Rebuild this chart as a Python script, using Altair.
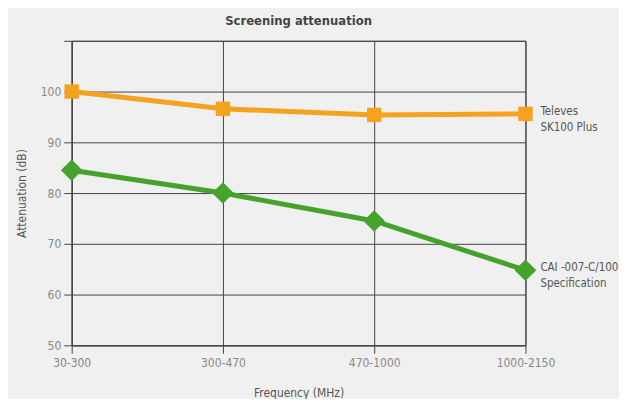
import altair as alt
import pandas as pd

categories = ["30-300", "300-470", "470-1000", "1000-2150"]
televes = [100, 96.6, 95.4, 95.6]
cai = [84.5, 80.0, 74.5, 64.8]
series_names = ["Televes\nSK100 Plus", "CAI -007-C/100\nSpecification"]
y_ticks = [50, 60, 70, 80, 90, 100, 110]

rows = []
for c, v in zip(categories, televes):
    rows.append({"freq": c, "att": v, "series": series_names[0]})
for c, v in zip(categories, cai):
    rows.append({"freq": c, "att": v, "series": series_names[1]})
df = pd.DataFrame(rows)
last = df[df["freq"] == categories[-1]]

FONT = "DejaVu Sans Condensed, sans-serif"
colors = ["#F5A21F", "#45A22C"]

x = alt.X("freq:N", sort=categories, scale=alt.Scale(type="point", padding=0),
          axis=alt.Axis(title="Frequency (MHz)", labelAngle=0, grid=True,
                        gridColor="#444", domainColor="#444", tickColor="#444",
                        tickSize=8, labelPadding=4, titlePadding=19))
y = alt.Y("att:Q", scale=alt.Scale(domain=[50, 110], nice=False, zero=False),
          axis=alt.Axis(title="Attenuation (dB)", values=y_ticks,
                        labelExpr="datum.value == 110 ? '' : datum.label",
                        gridColor="#444", domainColor="#444", tickColor="#444",
                        tickSize=8, labelPadding=3, titlePadding=12))
color = alt.Color("series:N", scale=alt.Scale(domain=series_names, range=colors), legend=None)

line = alt.Chart(df).mark_line(strokeWidth=5).encode(x=x, y=y, color=color)
sq = alt.Chart(df[df["series"] == series_names[0]]).mark_point(
    shape="square", filled=True, size=210, opacity=1).encode(x=x, y=y, color=color)
dm = alt.Chart(df[df["series"] == series_names[1]]).mark_point(
    shape="diamond", filled=True, size=470, opacity=1).encode(x=x, y=y, color=color)
labels = alt.Chart(last).mark_text(
    align="left", baseline="top", dx=15, dy=-8, lineBreak="\n", fontSize=11.5,
    font=FONT, color="#555", lineHeight=16).encode(
    x=x, y=y, text="series:N")

chart = alt.layer(line, sq, dm, labels).properties(
    width=456, height=306,
    title=alt.TitleParams("Screening attenuation", fontSize=13, font=FONT,
                          fontWeight="bold", color="#444", offset=12),
    background="#f0f0f0",
    padding={"left": 7, "top": 6, "right": 0, "bottom": 0},
).configure_view(stroke="#444", strokeWidth=1).configure_axis(
    labelFont=FONT, titleFont=FONT, labelFontSize=12, titleFontSize=12,
    labelColor="#888", titleColor="#555", titleFontWeight="normal",
    gridOpacity=1, gridWidth=1,
)

chart.save("out.html", embed_options={"renderer": "svg", "actions": False})
